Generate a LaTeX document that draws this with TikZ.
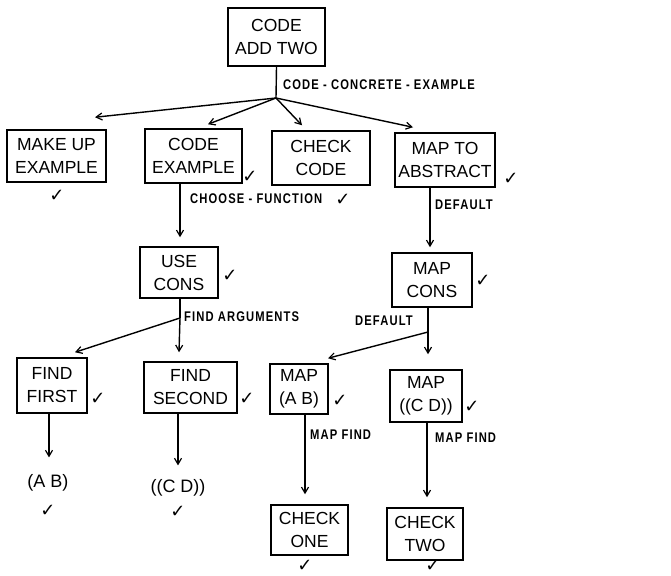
\documentclass[tikz,border=0pt]{standalone}
\usepackage{fontspec}
\setmainfont{Liberation Sans}
\newfontfamily\lbfont[LetterSpace=8,FakeStretch=0.8]{Liberation Sans}
\newfontfamily\ckfont{DejaVu Sans}
\usetikzlibrary{arrows.meta}
\tikzset{
 box/.style={draw, line width=1.5pt, inner sep=0pt, align=center, font=\fontsize{17.5}{23}\selectfont},
 lbl/.style={anchor=west, inner sep=0pt, font=\lbfont\bfseries\fontsize{14}{14}\selectfont},
 chk/.style={inner sep=0pt, font=\ckfont\fontsize{18}{18}\selectfont},
 leaf/.style={inner sep=0pt, font=\fontsize{18}{18}\selectfont},
 ln/.style={line width=1.4pt},
 arr/.style={line width=1.4pt, -{Straight Barb[length=6pt,width=7pt,line width=1.2pt]}},
}
\begin{document}
\begin{tikzpicture}[x=1pt,y=-1pt]
\useasboundingbox (0,0) rectangle (671,575);
% boxes
\node[box, minimum width=97pt, minimum height=58pt] (top) at (276.5,37) {CODE\\ADD TWO};
\node[box, minimum width=99pt, minimum height=52pt] (mk) at (56.5,156) {MAKE UP\\EXAMPLE};
\node[box, minimum width=97pt, minimum height=54pt] (ce) at (193.5,156) {CODE\\EXAMPLE};
\node[box, minimum width=98pt, minimum height=54pt] (cc) at (321,158) {CHECK\\CODE};
\node[box, minimum width=100pt, minimum height=54pt] (ma) at (445,160) {MAP TO\\ABSTRACT};
\node[box, minimum width=78pt, minimum height=51pt] (uc) at (179,272.5) {USE\\CONS};
\node[box, minimum width=80pt, minimum height=54pt] (mc) at (432,280) {MAP\\CONS};
\node[box, minimum width=70pt, minimum height=55pt] (ff) at (52,385.5) {FIND\\FIRST};
\node[box, minimum width=93pt, minimum height=51pt] (fs) at (190.5,387.5) {FIND\\SECOND};
\node[box, minimum width=58pt, minimum height=50pt] (mab) at (299,389) {MAP\\(A B)};
\node[box, minimum width=72pt, minimum height=52pt] (mcd) at (426,396) {MAP\\((C D))};
\node[box, minimum width=77pt, minimum height=50pt] (co) at (309.5,530) {CHECK\\ONE};
\node[box, minimum width=76pt, minimum height=52pt] (ct) at (425,534) {CHECK\\TWO};
\node[leaf] (ab) at (48,483) {(A B)};
\node[leaf] (cd) at (178,488) {((C D))};
% branch points
\coordinate (b0) at (276,98);
\coordinate (b1) at (180,318);
\coordinate (b2) at (428,332);
% connectors
\draw[ln] (top.south) -- (b0);
\draw[arr] (b0) -- ([xshift=38.5pt,yshift=12pt]mk.north);
\draw[arr] (b0) -- ([xshift=14.5pt,yshift=4pt]ce.north);
\draw[arr] (b0) -- ([xshift=-19pt,yshift=5pt]cc.north);
\draw[arr] (b0) -- ([xshift=-32pt,yshift=5pt]ma.north);
\draw[arr] ([xshift=-13.5pt]ce.south) -- ([xshift=1pt,yshift=9pt]uc.north);
\draw[ln] ([xshift=1pt]uc.south) -- (b1);
\draw[arr] (b1) -- ([xshift=-11.5pt,yshift=9pt]fs.north);
\draw[arr] (b1) -- ([xshift=23pt,yshift=5pt]ff.north);
\draw[arr] ([xshift=-15pt]ma.south) -- ([xshift=-2pt,yshift=5pt]mc.north);
\draw[ln] ([xshift=-4pt]mc.south) -- (b2);
\draw[arr] (b2) -- ([xshift=2pt,yshift=15pt]mcd.north);
\draw[arr] (b2) -- ([xshift=29pt,yshift=5pt]mab.north);
\draw[arr] ([xshift=-3pt]ff.south) -- ([xshift=1pt,yshift=17pt]ab.north);
\draw[arr] ([xshift=-12.5pt]fs.south) -- ([yshift=14pt]cd.north);
\draw[arr] ([xshift=6pt]mab.south) -- ([xshift=-4.5pt,yshift=10pt]co.north);
\draw[arr] ([xshift=1pt]mcd.south) -- ([xshift=2pt,yshift=10pt]ct.north);
% labels
\node[lbl] (l1) at (283,85) {CODE - CONCRETE - EXAMPLE};
\node[lbl] (l2) at (190,199) {CHOOSE - FUNCTION};
\node[lbl] (l3) at (435,205) {DEFAULT};
\node[lbl] (l4) at (184,317) {FIND ARGUMENTS};
\node[lbl] (l5) at (355,321) {DEFAULT};
\node[lbl] (l6) at (310,435) {MAP FIND};
\node[lbl] (l7) at (435,438) {MAP FIND};
% checks
\node[chk] (k1) at (57,196) {✓};
\node[chk] (k2) at (250,177) {✓};
\node[chk] (k3) at (343,200) {✓};
\node[chk] (k4) at (511,179) {✓};
\node[chk] (k5) at (230,276) {✓};
\node[chk] (k6) at (483,281) {✓};
\node[chk] (k7) at (98,399) {✓};
\node[chk] (k8) at (247,399) {✓};
\node[chk] (k9) at (340,401) {✓};
\node[chk] (k10) at (472,407) {✓};
\node[chk] (k11) at (48,511) {✓};
\node[chk] (k12) at (178,512) {✓};
\node[chk] (k13) at (305,566) {✓};
\node[chk] (k14) at (433,566) {✓};
\end{tikzpicture}
\end{document}
